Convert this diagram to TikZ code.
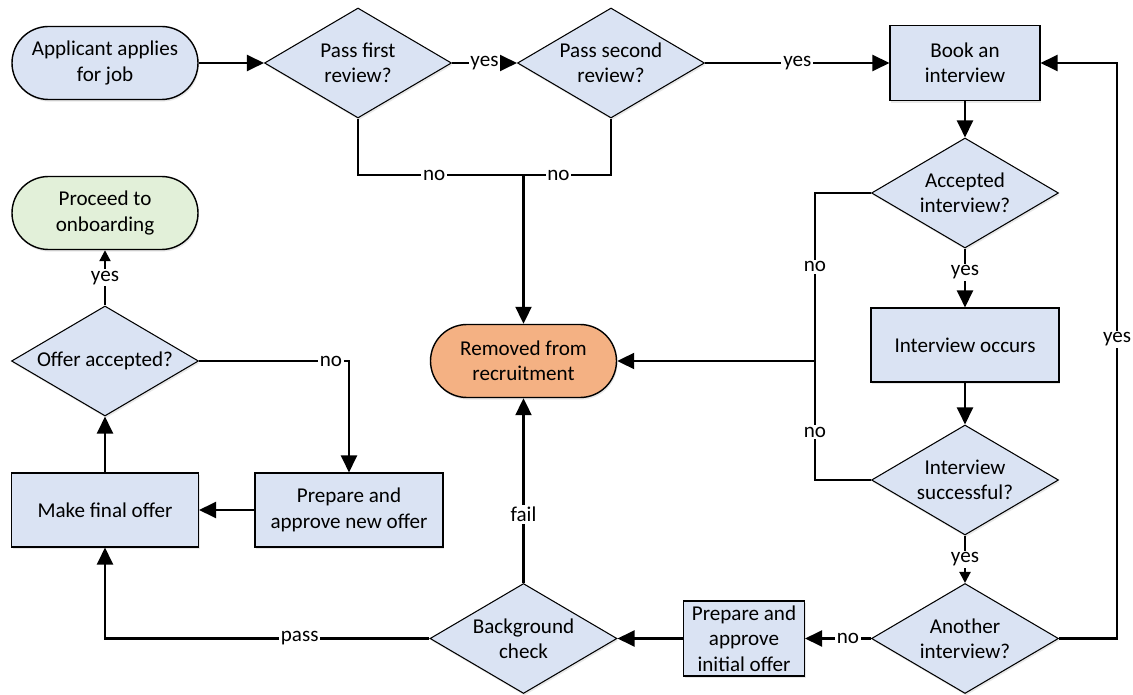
\documentclass[tikz,border=0pt]{standalone}
\usepackage{fontspec}
\setmainfont{Carlito}
\usetikzlibrary{shapes.geometric,arrows.meta,shadows}
\definecolor{boxblue}{RGB}{218,227,243}
\definecolor{boxorange}{RGB}{244,177,131}
\definecolor{boxgreen}{RGB}{226,240,217}
\begin{document}
\begin{tikzpicture}[font=\fontsize{12}{14.5}\selectfont,
    glow/.style ={drop shadow={shadow xshift=0.6pt, shadow yshift=-1.2pt, opacity=0.18}},
    terminal/.style ={rectangle, rounded corners=7.3mm, draw, line width=0.8pt, fill=boxblue,
      minimum width=3.72cm, minimum height=1.46cm, align=center, glow},
    process/.style ={rectangle, draw, line width=0.6pt, fill=boxblue, minimum height=1.48cm,
      align=center, glow},
    decision/.style ={diamond, aspect=1.7, draw, line width=0.6pt, fill=boxblue,
      minimum width=3.74cm, minimum height=2.2cm, inner sep=0pt, align=center, glow},
    link/.style ={line width=1.2pt},
    flow/.style ={link, -{Triangle[length=3.4mm,width=3.2mm]}},
    shortflow/.style ={link, -{Triangle[length=2.2mm,width=2.2mm]}},
    answer/.style ={fill=white, inner sep=1pt}]
   \useasboundingbox (0,0) rectangle (22.66,13.88);
   % screening
   \node[terminal] (start) at (2.10,12.62) {Applicant applies\\for job};
   \node[decision] (first) at (7.16,12.62) {Pass first\\review?};
   \node[decision] (second) at (12.22,12.62) {Pass second\\review?};
   \node[terminal, fill=boxorange] (removed) at (10.47,6.66) {Removed from\\recruitment};
   % interviews
   \node[process, minimum width=3.0cm, minimum height=1.5cm] (book) at (19.30,12.62) {Book an\\interview};
   \node[decision] (accepted) at (19.30,10.02) {Accepted\\interview?};
   \node[process, minimum width=3.76cm] (occurs) at (19.30,6.98) {Interview occurs};
   \node[decision] (successful) at (19.30,4.28) {Interview\\successful?};
   \node[decision] (another) at (19.30,1.11) {Another\\interview?};
   % offer
   \node[process, minimum width=2.42cm, minimum height=1.5cm, inner sep=1pt] (initial) at (14.88,1.11) {Prepare and\\approve\\initial offer};
   \node[decision] (background) at (10.47,1.11) {Background\\check};
   \node[process, minimum width=3.74cm] (final) at (2.10,3.68) {Make final offer};
   \node[process, minimum width=3.76cm] (newoffer) at (6.98,3.68) {Prepare and\\approve new offer};
   \node[decision] (offer) at (2.10,6.66) {Offer accepted?};
   \node[terminal, fill=boxgreen] (onboard) at (2.10,9.62) {Proceed to\\onboarding};
   \coordinate (nojoin) at (10.47,10.38);
   \coordinate (refusal) at (16.30,6.66);
   \coordinate (loopback) at (22.34,12.62);
   \draw[flow] (start) to (first);
   \draw[flow] (first) to node[answer] {yes} (second);
   \draw[flow] (second) to node[answer] {yes} (book);
   \draw[link] (first.south) |- node[answer, pos=0.73] {no} (nojoin);
   \draw[link] (second.south) |- node[answer, pos=0.8] {no} (nojoin);
   \draw[flow] (nojoin) to (removed);
   \draw[flow] (book) to (accepted);
   \draw[flow] (accepted) to node[answer, pos=0.4] {yes} (occurs);
   \draw[flow] (occurs) to (successful);
   \draw[shortflow] (successful) to node[answer] {yes} (another);
   \draw[link] (accepted.west) -| node[answer, pos=0.72] {no} (refusal);
   \draw[link] (successful.west) -| node[answer, pos=0.7] {no} (refusal);
   \draw[flow] (refusal) to (removed.east);
   \draw[flow] (another.east) -| node[answer, pos=0.76] {yes} (loopback) to (book.east);
   \draw[flow] (another) to node[answer, pos=0.35] {no} (initial);
   \draw[flow] (initial) to (background);
   \draw[flow] (background) to node[answer, pos=0.37] {fail} (removed);
   \draw[flow] (background.west) -| node[answer, pos=0.2] {pass} (final.south);
   \draw[flow] (final) to (offer);
   \draw[shortflow] (offer) to node[answer] {yes} (onboard);
   \draw[flow] (offer.east) -| node[answer, pos=0.44] {no} (newoffer.north);
   \draw[flow] (newoffer) to (final);
\end{tikzpicture}
\end{document}
